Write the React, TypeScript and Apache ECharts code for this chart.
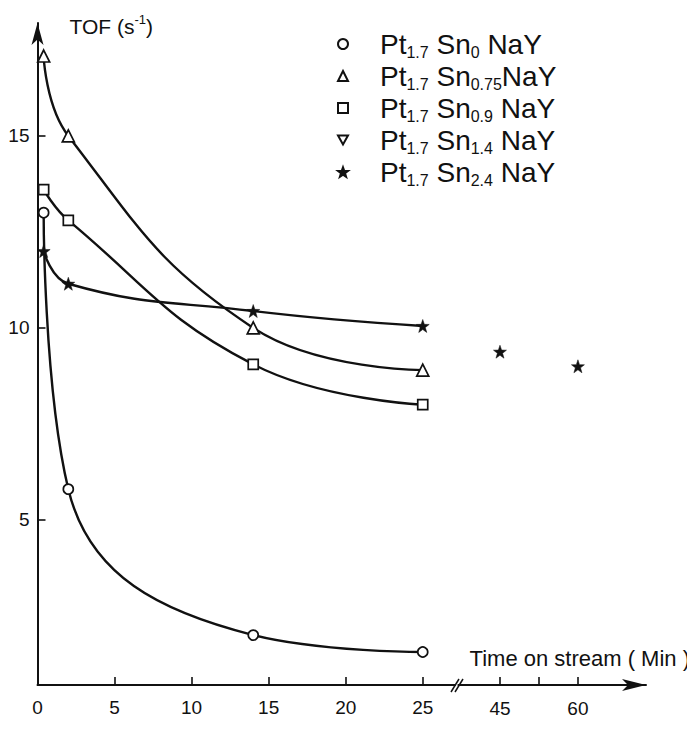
import React, { useEffect, useRef } from "react";
import * as echarts from "echarts";

// ---- data ----
const snLoadings = ["0", "0.75", "0.9", "1.4", "2.4"];
const seriesNames = snLoadings.map((s) => `Pt1.7 Sn${s} NaY`);
const timeEarly = [0.4, 2, 14, 25]; // min
const tofSn0 = [13.0, 5.8, 2.0, 1.56];
const tofSn075 = [17.08, 15.0, 10.0, 8.9];
const tofSn09 = [13.6, 12.8, 9.05, 8.0];
const tofSn14: number[] = [];
const tofSn24 = [12.0, 11.15, 10.44, 10.05];
const timeLate = [45, 60];
const tofSn24Late = [9.38, 9.0];

const yTickValues = [5, 10, 15];
const xLabelsEarly = [0, 5, 10, 15, 20, 25];
const xTicksEarly = [5, 10, 15, 20, 25];
const xLabelsLate = [45, 60];
const xTicksLate = [45, 52.5, 60];

const FONT = "Liberation Sans, Arial, Helvetica, sans-serif";
const INK = "#111";

const STAR =
  "path://M0,-10 L2.35,-3.24 L9.51,-3.09 L3.8,1.24 L5.88,8.09 L0,4 L-5.88,8.09 L-3.8,1.24 L-9.51,-3.09 L-2.35,-3.24 Z";
const DOWN_TRI = "path://M0,0 L10,0 L5,9 Z";

const zip = (xs: number[], ys: number[]) => ys.map((y, i) => [xs[i], y]);

export default function App() {
  const ref = useRef<HTMLDivElement>(null);
  useEffect(() => {
    if (!ref.current) return;
    const chart = echarts.init(ref.current, undefined, { renderer: "svg" });

    const curve = (data: number[][]) => ({
      type: "line",
      xAxisIndex: 0,
      yAxisIndex: 0,
      data,
      smooth: 0.45,
      showSymbol: false,
      silent: true,
      lineStyle: { color: INK, width: 2.4 },
      z: 2,
    });
    const marks = (name: string, data: number[][], symbol: string, size: number, filled: boolean, axis = 0) => ({
      type: "scatter",
      name,
      xAxisIndex: axis,
      yAxisIndex: axis,
      data,
      symbol,
      symbolSize: size,
      silent: true,
      itemStyle: filled
        ? { color: INK, borderColor: INK, borderWidth: 0.5, opacity: 1 }
        : { color: "#fff", borderColor: INK, borderWidth: 1.7, opacity: 1 },
      z: 5,
    });

    const yAxisBase = {
      type: "value",
      min: 0.7,
      max: 17.94,
    };

    chart.setOption({
      animation: false,
      backgroundColor: "#fff",
      textStyle: { fontFamily: FONT, color: INK },
      grid: [
        { left: 37.5, top: 23, bottom: 56, right: 239.9 },
        { left: 458.4, top: 23, bottom: 56, right: 49 },
      ],
      xAxis: [
        {
          type: "value",
          gridIndex: 0,
          min: 0,
          max: 27.1,
          splitLine: { show: false },
          axisLine: { lineStyle: { color: INK, width: 2 } },
          axisTick: {
            show: true,
            inside: true,
            length: 8,
            customValues: xTicksEarly,
            lineStyle: { color: INK, width: 1.6 },
          },
          axisLabel: {
            customValues: xLabelsEarly,
            margin: 13,
            fontSize: 19,
            color: INK,
            fontFamily: FONT,
          },
        },
        {
          type: "value",
          gridIndex: 1,
          min: 37,
          max: 73.1,
          splitLine: { show: false },
          axisLine: {
            lineStyle: { color: INK, width: 2 },
            symbol: ["none", "arrow"],
            symbolSize: [9, 24],
          },
          axisTick: {
            show: true,
            inside: true,
            length: 8,
            customValues: xTicksLate,
            lineStyle: { color: INK, width: 1.6 },
          },
          axisLabel: {
            customValues: xLabelsLate,
            margin: 14,
            fontSize: 19,
            color: INK,
            fontFamily: FONT,
          },
          name: "Time on stream ( Min )",
          nameLocation: "end",
          nameGap: 44,
          nameTextStyle: {
            align: "right",
            verticalAlign: "bottom",
            fontSize: 22,
            color: INK,
            fontFamily: FONT,
            padding: [0, 0, 16, 0],
          },
        },
      ],
      yAxis: [
        {
          ...yAxisBase,
          gridIndex: 0,
          splitLine: { show: false },
          axisLine: {
            show: true,
            lineStyle: { color: INK, width: 2 },
            symbol: ["none", "arrow"],
            symbolSize: [9, 22],
          },
          axisTick: {
            show: true,
            inside: true,
            length: 8,
            customValues: yTickValues,
            lineStyle: { color: INK, width: 1.6 },
          },
          axisLabel: {
            customValues: yTickValues,
            margin: 8,
            fontSize: 19,
            color: INK,
            fontFamily: FONT,
          },
          name: "{a|TOF (s}{b|-1}{a|)}",
          nameLocation: "end",
          nameGap: -2,
          nameTextStyle: {
            align: "left",
            verticalAlign: "middle",
            padding: [0, 0, 0, 32],
            rich: {
              a: { fontSize: 21, color: INK, fontFamily: FONT, lineHeight: 24, verticalAlign: "bottom" },
              b: { fontSize: 13, color: INK, fontFamily: FONT, lineHeight: 22, verticalAlign: "top" },
            },
          },
        },
        {
          ...yAxisBase,
          gridIndex: 1,
          show: false,
          splitLine: { show: false },
        },
      ],
      legend: {
        orient: "vertical",
        left: 332,
        top: 25,
        itemWidth: 10,
        itemHeight: 10,
        itemGap: 2,
        selectedMode: false,
        data: seriesNames,
        formatter: (name: string) => {
          const i = seriesNames.indexOf(name);
          const sub = snLoadings[i];
          const tail = sub === "0.75" ? "{m|NaY}" : "{m| NaY}";
          return `{sp| }{m|Pt}{s|1.7}{m| Sn}{s|${sub}}${tail}`;
        },
        textStyle: {
          rich: {
            sp: { width: 27, fontSize: 10 },
            m: { fontSize: 28, color: INK, fontFamily: FONT, lineHeight: 32, verticalAlign: "middle" },
            s: { fontSize: 16, color: INK, fontFamily: FONT, lineHeight: 11, verticalAlign: "bottom" },
          },
        },
      },
      graphic: [
        {
          type: "line",
          shape: { x1: 451, y1: 692, x2: 459, y2: 679 },
          style: { stroke: INK, lineWidth: 1.5 },
          z: 10,
        },
        {
          type: "line",
          shape: { x1: 455, y1: 692, x2: 463, y2: 679 },
          style: { stroke: INK, lineWidth: 1.5 },
          z: 10,
        },
      ],
      series: [
        curve(zip(timeEarly, tofSn0)),
        curve(zip(timeEarly, tofSn075)),
        curve(zip(timeEarly, tofSn09)),
        curve(zip(timeEarly, tofSn24)),
        marks(seriesNames[0], zip(timeEarly, tofSn0), "circle", 10, false),
        marks(seriesNames[1], zip(timeEarly, tofSn075), "triangle", 12, false),
        marks(seriesNames[2], zip(timeEarly, tofSn09), "rect", 10, false),
        marks(seriesNames[3], zip(timeEarly, tofSn14), DOWN_TRI, 10, false),
        marks(seriesNames[4], zip(timeEarly, tofSn24), STAR, 13, true),
        marks(seriesNames[4], zip(timeLate, tofSn24Late), STAR, 13, true, 1),
      ],
    });
    return () => chart.dispose();
  }, []);
  return <div ref={ref} style={{ width: 695, height: 741, margin: -8 }} />;
}
